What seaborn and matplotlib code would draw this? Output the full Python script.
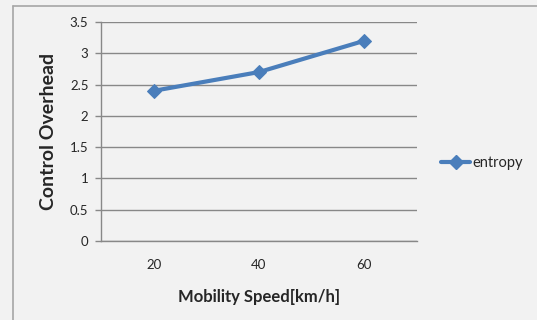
import pandas as pd
import matplotlib.pyplot as plt
import seaborn as sns
from matplotlib.lines import Line2D

# data
speeds = ["20", "40", "60"]
overhead = [2.4, 2.7, 3.2]
series_name = "entropy"

df = pd.DataFrame({"speed": speeds, "overhead": overhead, "series": series_name})

sns.set_theme(style="white")
plt.rcParams['font.family'] = ['Lato', 'DejaVu Sans']

bg = "#f2f2f2"
blue = "#4a7ebb"

fig = plt.figure(figsize=(5.37, 3.2), dpi=100, facecolor=bg)
ax = fig.add_axes([101 / 537, 79 / 320, 316 / 537, 219 / 320])
ax.set_facecolor(bg)

sns.lineplot(data=df, x="speed", y="overhead", ax=ax, color=blue,
             linewidth=3, marker="D", markersize=7.5, markeredgecolor=blue,
             sort=False, legend=False)

ax.set_xlim(-0.5, 2.5)
ax.set_ylim(0, 3.5)
ax.set_yticks([0, 0.5, 1, 1.5, 2, 2.5, 3, 3.5])
ax.set_yticklabels(["0", "0.5", "1", "1.5", "2", "2.5", "3", "3.5"])
ax.yaxis.grid(True, color="#888888", linewidth=1)
ax.xaxis.grid(False)

for s in ["top", "right"]:
    ax.spines[s].set_visible(False)
ax.spines["left"].set_color("#888888")
ax.spines["bottom"].set_color("#888888")
ax.spines["left"].set_linewidth(1)
ax.spines["bottom"].set_linewidth(1)

ax.tick_params(axis="y", which="major", direction="out", length=4, width=1,
               color="#888888", labelsize=9.5, pad=5, left=True)
ax.tick_params(axis="x", length=0, labelsize=9.5, pad=13)

ax.set_xlabel("Mobility Speed[km/h]", fontsize=12, fontweight="bold", labelpad=13)
ax.set_ylabel("Control Overhead", fontsize=14, fontweight="bold", labelpad=9)

handle = Line2D([], [], color=blue, linewidth=3, marker="D", markersize=7.5)
fig.legend([handle], [series_name], loc="center left",
           bbox_to_anchor=(428 / 537, 1 - 163 / 320), frameon=False,
           fontsize=10.5, handlelength=2.0, handletextpad=0.15)

# chart border
fig.add_artist(Line2D([13 / 537, 13 / 537], [0, 1 - 6 / 320], color="#a6a6a6",
                      linewidth=1.2, transform=fig.transFigure))
fig.add_artist(Line2D([13 / 537, 1], [1 - 6 / 320, 1 - 6 / 320], color="#a6a6a6",
                      linewidth=1.2, transform=fig.transFigure))

fig.savefig("out.png", dpi=100, facecolor=bg)
